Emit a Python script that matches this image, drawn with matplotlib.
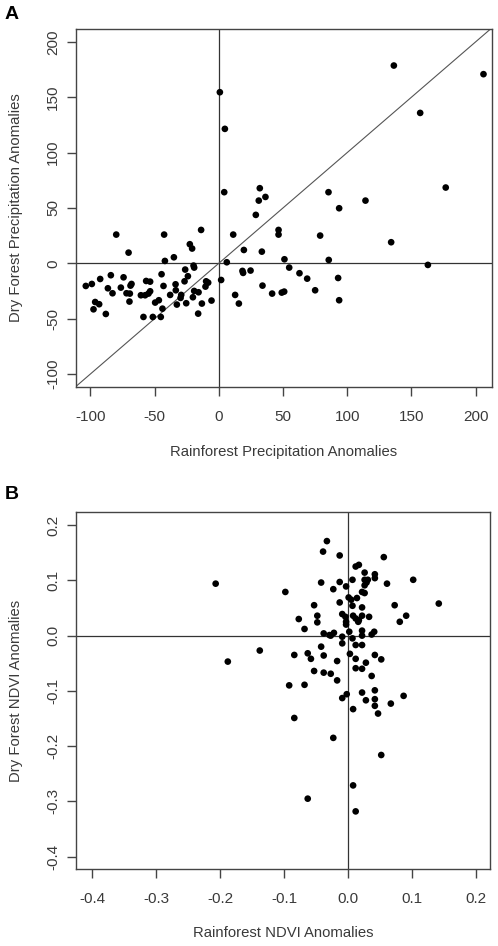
import matplotlib
matplotlib.use("Agg")
import matplotlib.pyplot as plt

plt.rcParams['font.family'] = ['Liberation Sans', 'DejaVu Sans']

# Panel A: precipitation anomalies
rain_precip = [-103.6, -98.9, -97.6, -96.3, -93.2, -92.4, -88.0, -86.4, -84.1, -82.8,
               -79.9, -76.3, -74.2, -71.9, -70.3, -69.6, -69.3, -68.8, -68.0, -60.7,
               -58.7, -57.4, -56.6, -54.8, -53.5, -53.5, -51.4, -49.6, -46.7, -45.2,
               -44.6, -43.9, -43.1, -42.6, -42.0, -37.9, -35.0, -33.7, -33.5, -32.7,
               -29.8, -29.3, -26.7, -26.2, -25.4, -24.1, -22.6, -20.8, -20.2, -19.2,
               -19.7, -19.2, -15.8, -16.1, -13.8, -13.2, -10.4, -9.9, -8.3, -5.7,
               0.8, 1.8, 4.2, 4.7, 6.2, 11.2, 12.7, 15.6, 18.4, 18.9,
               19.5, 24.7, 28.8, 31.1, 31.9, 33.5, 34.0, 36.3, 41.5, 46.5,
               46.5, 49.0, 50.9, 51.1, 54.8, 62.8, 68.8, 75.0, 78.9, 85.4,
               85.6, 92.9, 93.7, 93.7, 114.2, 134.2, 136.3, 156.8, 162.8, 176.7,
               206.1]
dry_precip = [-20.5, -18.7, -41.6, -35.0, -37.0, -14.2, -45.8, -22.6, -10.8, -27.1,
              25.9, -22.0, -12.7, -27.1, 9.6, -34.6, -27.4, -20.2, -18.7, -28.9,
              -48.5, -28.9, -16.0, -27.4, -16.6, -25.3, -48.5, -35.5, -33.4, -48.5,
              -9.9, -41.0, -20.5, 25.9, 2.1, -28.6, 5.4, -19.0, -24.4, -37.3,
              -31.3, -28.6, -16.3, -5.7, -36.1, -11.7, 17.2, 13.3, -30.7, -25.0,
              -2.1, -3.9, -26.2, -45.5, 30.1, -36.4, -21.1, -16.3, -17.5, -33.7,
              154.5, -15.1, 64.2, 121.4, 0.9, 25.9, -28.6, -36.4, -6.9, -8.7,
              12.0, -6.6, 43.7, 56.6, 67.8, 10.5, -20.2, 59.9, -27.4, 25.9,
              30.1, -26.5, -25.6, 3.6, -3.9, -9.0, -13.9, -24.4, 25.0, 64.2,
              3.0, -13.3, -33.4, 49.7, 56.6, 19.0, 178.6, 135.8, -1.5, 68.4,
              170.8]

# Panel B: NDVI anomalies
rain_ndvi = [-0.207, -0.188, -0.138, -0.098, -0.092, -0.084, -0.084, -0.077, -0.068, -0.068,
             -0.063, -0.063, -0.058, -0.053, -0.053, -0.048, -0.048, -0.042, -0.042, -0.039,
             -0.038, -0.038, -0.038, -0.033, -0.029, -0.027, -0.027, -0.023, -0.023, -0.022,
             -0.017, -0.017, -0.013, -0.013, -0.013, -0.009, -0.009, -0.009, -0.009, -0.004,
             -0.003, -0.003, -0.003, -0.002, 0.001, 0.002, 0.003, 0.005, 0.007, 0.007,
             0.007, 0.008, 0.008, 0.008, 0.012, 0.012, 0.012, 0.012, 0.012, 0.014,
             0.017, 0.017, 0.022, 0.022, 0.022, 0.022, 0.022, 0.022, 0.022, 0.022,
             0.026, 0.026, 0.026, 0.026, 0.028, 0.028, 0.031, 0.033, 0.037, 0.037,
             0.041, 0.042, 0.042, 0.042, 0.042, 0.042, 0.042, 0.047, 0.052, 0.052,
             0.056, 0.061, 0.067, 0.073, 0.081, 0.087, 0.091, 0.102, 0.142, 0.029,
             0.012, 0.016]
dry_ndvi = [0.094, -0.047, -0.027, 0.079, -0.090, -0.035, -0.149, 0.030, -0.089, 0.012,
            -0.032, -0.295, -0.042, 0.055, -0.064, 0.036, 0.024, 0.096, -0.020, 0.152,
            0.004, -0.036, -0.067, 0.171, 0.001, -0.069, 0.000, 0.084, -0.185, 0.005,
            -0.046, -0.081, 0.145, 0.097, 0.060, 0.039, -0.002, -0.014, -0.113, 0.034,
            0.089, 0.025, 0.020, -0.106, 0.069, 0.007, -0.033, 0.065, 0.054, 0.101,
            -0.005, 0.036, -0.133, -0.271, -0.017, -0.042, -0.059, -0.318, 0.125, 0.068,
            0.128, 0.028, 0.051, 0.036, 0.009, 0.000, -0.017, -0.060, -0.103, 0.079,
            0.114, 0.101, 0.091, 0.077, -0.049, -0.117, 0.101, 0.034, 0.002, -0.073,
            0.007, 0.111, 0.104, -0.035, -0.099, -0.115, -0.127, -0.141, -0.043, -0.216,
            0.142, 0.094, -0.123, 0.055, 0.025, -0.109, 0.036, 0.101, 0.058, 0.096,
            0.031, 0.025]

a_ticks = [-100, -50, 0, 50, 100, 150, 200]
b_ticks = [-0.4, -0.3, -0.2, -0.1, 0.0, 0.1, 0.2]
b_ticklabels = ["-0.4", "-0.3", "-0.2", "-0.1", "0.0", "0.1", "0.2"]

TXT = '#3a3a3a'
FS_TICK = 11
FS_LAB = 10.7

fig = plt.figure(figsize=(4.98, 9.46), dpi=100)
W, H = 498, 946

def make_axes(l, t, r, b):
    return fig.add_axes([l / W, 1 - b / H, (r - l) / W, (b - t) / H])

def style(ax):
    for s in ax.spines.values():
        s.set_color('#444444')
        s.set_linewidth(1.0)
    ax.tick_params(axis='both', direction='out', length=6.5, width=1.0, color='#444444',
                   labelsize=FS_TICK, labelcolor=TXT)
    ax.tick_params(axis='x', pad=10)
    ax.tick_params(axis='y', pad=5)
    for lab in ax.get_yticklabels():
        lab.set_rotation(90)
        lab.set_va('center')

# ---- Panel A ----
axA = make_axes(76.3, 29, 491.7, 386.7)
axA.set_xlim(-111, 212.5)
axA.set_ylim(-111.5, 211.6)
axA.axhline(0, color='#333333', lw=0.9, zorder=1)
axA.axvline(0, color='#333333', lw=0.9, zorder=1)
axA.axline((0, 0), slope=1, color='#555555', lw=0.8, zorder=1)
axA.scatter(rain_precip, dry_precip, s=23, color='black', edgecolors='none', zorder=3)
axA.set_xticks(a_ticks)
axA.set_yticks(a_ticks)
axA.set_xticklabels([str(t) for t in a_ticks])
axA.set_yticklabels([str(t) for t in a_ticks])
style(axA)
axA.set_xlabel("Rainforest Precipitation Anomalies", fontsize=FS_LAB, color=TXT)
axA.set_ylabel("Dry Forest Precipitation Anomalies", fontsize=FS_LAB, color=TXT)
axA.xaxis.set_label_coords(0.5, -0.183)
axA.xaxis.label.set_va('center')
axA.yaxis.set_label_coords(-0.145, 0.5)
axA.yaxis.label.set_va('center')
fig.text(5 / W, 1 - 14.5 / H, "A", fontsize=14, fontweight='heavy', ha='left', va='center',
         color='black')

# ---- Panel B ----
axB = make_axes(76.3, 512.3, 490.3, 869.3)
axB.set_xlim(-0.425, 0.2226)
axB.set_ylim(-0.4228, 0.2231)
axB.axhline(0, color='#333333', lw=0.9, zorder=1)
axB.axvline(0, color='#333333', lw=0.9, zorder=1)
axB.scatter(rain_ndvi, dry_ndvi, s=23, color='black', edgecolors='none', zorder=3)
axB.set_xticks(b_ticks)
axB.set_yticks(b_ticks)
axB.set_xticklabels(b_ticklabels)
axB.set_yticklabels(b_ticklabels)
style(axB)
axB.set_xlabel("Rainforest NDVI Anomalies", fontsize=FS_LAB, color=TXT)
axB.set_ylabel("Dry Forest NDVI Anomalies", fontsize=FS_LAB, color=TXT)
axB.xaxis.set_label_coords(0.5, -0.178)
axB.xaxis.label.set_va('center')
axB.yaxis.set_label_coords(-0.145, 0.5)
axB.yaxis.label.set_va('center')
fig.text(5 / W, 1 - 494.5 / H, "B", fontsize=14, fontweight='heavy', ha='left', va='center',
         color='black')

fig.savefig("out.png", dpi=100)
